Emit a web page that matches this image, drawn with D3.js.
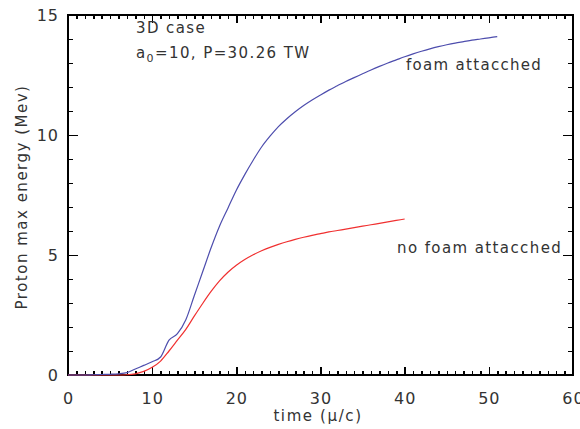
<!DOCTYPE html>
<html><head><meta charset="utf-8">
<script src="https://cdn.jsdelivr.net/npm/d3@7"></script>
<style>body{margin:0;background:#fff}svg text{font-family:"DejaVu Sans",sans-serif;fill:#333}</style>
</head><body><svg id="c" width="580" height="429"></svg>
<script>
const blueT = [0,1,2,3,4,5,6,7,8,9,10,11,12,13,14,15,16,17,18,19,20,21,22,23,24,25,26,27,28,29,30,31,32,33,34,35,36,37,38,39,40,41,42,43,44,45,46,47,48,49,50,51];
const blueE = [0,0,0,0.01,0.02,0.03,0.05,0.1,0.25,0.4,0.55,0.75,1.45,1.72,2.3,3.3,4.3,5.3,6.2,6.95,7.7,8.35,8.95,9.5,9.95,10.35,10.68,10.97,11.23,11.46,11.67,11.87,12.05,12.23,12.39,12.55,12.71,12.86,13.0,13.13,13.26,13.38,13.49,13.59,13.68,13.76,13.83,13.89,13.95,14.0,14.05,14.1];
const redT = [0,1,2,3,4,5,6,7,8,9,10,11,12,13,14,15,16,17,18,19,20,21,22,23,24,25,26,27,28,29,30,31,32,33,34,35,36,37,38,39,40];
const redE = [0,0,0,0,0,0,0,0.01,0.05,0.15,0.32,0.58,1.0,1.45,1.9,2.45,2.98,3.48,3.92,4.28,4.57,4.81,5.01,5.18,5.32,5.44,5.55,5.65,5.74,5.82,5.89,5.96,6.02,6.08,6.14,6.2,6.26,6.32,6.38,6.44,6.5];
const xTicks = [0,10,20,30,40,50,60];
const yTicks = [0,5,10,15];
const xLabel = "time (\u03bc/c)";
const yLabel = "Proton max energy (Mev)";

const svg = d3.select("#c");
const x = d3.scaleLinear().domain([0,60]).range([68,573]);
const y = d3.scaleLinear().domain([0,15]).range([375,15]);
const g = svg.append("g");
const ink = "#000";

function styleAxis(sel){
  sel.select(".domain").remove();
  sel.selectAll(".tick line").attr("stroke",ink).attr("stroke-width",1.5).attr("shape-rendering","crispEdges");
  sel.selectAll(".tick text").attr("font-family","DejaVu Sans").attr("fill","#333").attr("letter-spacing",1);
}
const xMinor = d3.range(0,61,1), yMinor = d3.range(0,16,1);
// minor ticks
g.append("g").attr("transform","translate(0,375)").call(d3.axisBottom(x).tickValues(xMinor).tickSize(-4).tickFormat("")).call(styleAxis);
g.append("g").attr("transform","translate(0,15)").call(d3.axisTop(x).tickValues(xMinor).tickSize(-4).tickFormat("")).call(styleAxis);
g.append("g").attr("transform","translate(68,0)").call(d3.axisLeft(y).tickValues(yMinor).tickSize(-5).tickFormat("")).call(styleAxis);
g.append("g").attr("transform","translate(573,0)").call(d3.axisRight(y).tickValues(yMinor).tickSize(-5).tickFormat("")).call(styleAxis);
// major ticks with labels
g.append("g").attr("transform","translate(0,375)").call(d3.axisBottom(x).tickValues(xTicks).tickSize(-8).tickPadding(18).tickFormat(d3.format("d")))
 .call(styleAxis).call(a=>a.selectAll(".tick text").attr("font-size",16));
g.append("g").attr("transform","translate(0,15)").call(d3.axisTop(x).tickValues(xTicks).tickSize(-8).tickFormat("")).call(styleAxis);
g.append("g").attr("transform","translate(68,0)").call(d3.axisLeft(y).tickValues(yTicks).tickSize(-10).tickPadding(9).tickFormat(d3.format("d")))
 .call(styleAxis).call(a=>a.selectAll(".tick text").attr("font-size",16));
g.append("g").attr("transform","translate(573,0)").call(d3.axisRight(y).tickValues(yTicks).tickSize(-10).tickFormat("")).call(styleAxis);

// frame
g.append("rect").attr("x",68).attr("y",15).attr("width",505).attr("height",360)
 .attr("fill","none").attr("stroke",ink).attr("stroke-width",1.5).attr("shape-rendering","crispEdges");

g.append("text").attr("x",318).attr("y",421).attr("text-anchor","middle").attr("font-size",15).attr("letter-spacing",1.6).text(xLabel);
g.append("text").attr("transform","translate(27,197) rotate(-90)").attr("text-anchor","middle").attr("font-size",15).attr("letter-spacing",1.5).text(yLabel);

const line = d3.line().curve(d3.curveMonotoneX).x(d=>x(d[0])).y(d=>y(d[1]));
g.append("path").datum(redT.map((t,i)=>[t,redE[i]])).attr("d",line).attr("fill","none").attr("stroke","#f03030").attr("stroke-width",1.2);
g.append("path").datum(blueT.map((t,i)=>[t,blueE[i]])).attr("d",line).attr("fill","none").attr("stroke","#4d4dad").attr("stroke-width",1.2);

g.append("text").attr("x",136).attr("y",33).attr("font-size",15).attr("letter-spacing",1.4).text("3D case");
const t2 = g.append("text").attr("x",136).attr("y",58).attr("font-size",15).attr("letter-spacing",1.4);
t2.append("tspan").text("a");
t2.append("tspan").attr("dy",4).attr("font-size",11).text("0");
t2.append("tspan").attr("dy",-4).text("=10, P=30.26 TW");
g.append("text").attr("x",406).attr("y",70).attr("font-size",15).attr("letter-spacing",1.3).text("foam attacched");
g.append("text").attr("x",397).attr("y",253).attr("font-size",15).attr("letter-spacing",1.4).text("no foam attacched");
</script></body></html>
